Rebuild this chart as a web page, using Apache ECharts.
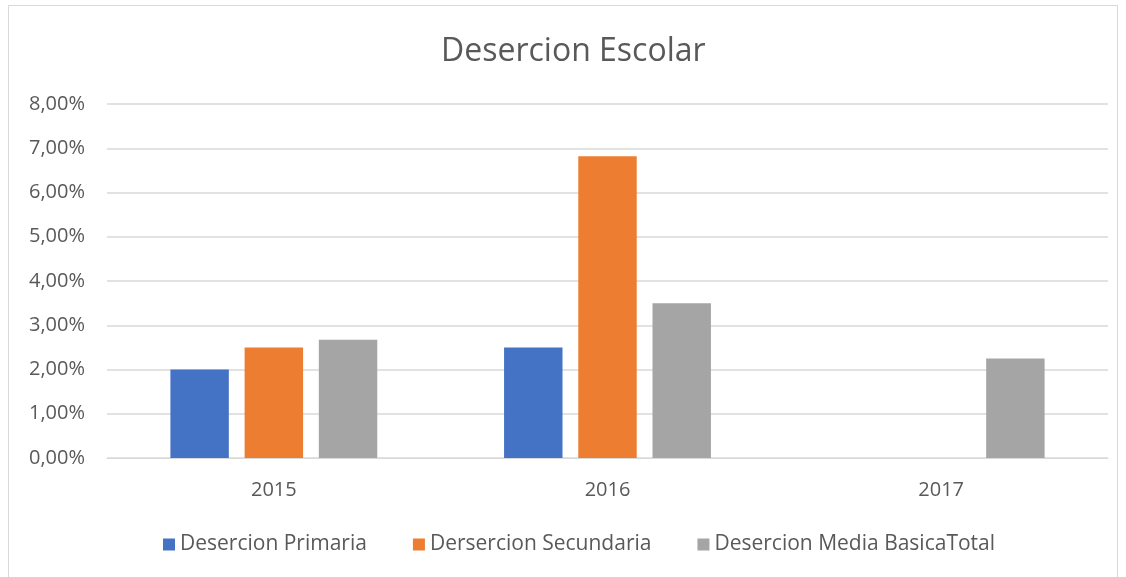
<!DOCTYPE html>
<html>
<head>
<meta charset="utf-8">
<script src="https://cdn.jsdelivr.net/npm/echarts@6/dist/echarts.min.js"></script>
<style>
  html, body { margin: 0; padding: 0; background: #fff; }
  #frame { position: absolute; left: 8px; top: 5px; width: 1110px; height: 580px; border: 1px solid #d9d9d9; box-sizing: border-box; }
  #chart { position: absolute; left: 0; top: 0; width: 1126px; height: 577px; }
</style>
</head>
<body>
<div id="frame"></div>
<div id="chart"></div>
<script>
// datos
let years = ["2015", "2016", "2017"];
let primaria = [2.0, 2.5, null];
let secundaria = [2.5, 6.82, null];
let mediaBasica = [2.67, 3.5, 2.25];
let seriesNames = ["Desercion Primaria", "Dersercion Secundaria", "Desercion Media BasicaTotal"];

let fontFam = "'Open Sans', 'Liberation Sans', sans-serif";
let myChart = echarts.init(document.getElementById("chart"));

let option = {
  animation: false,
  title: {
    text: "Desercion Escolar",
    left: 436,
    top: 31,
    textStyle: { fontFamily: fontFam, fontSize: 32, fontWeight: "normal", color: "#595959" }
  },
  legend: {
    data: seriesNames,
    bottom: 17,
    left: 158,
    itemWidth: 12,
    itemHeight: 12,
    itemGap: 46,
    icon: "rect",
    textStyle: { fontFamily: fontFam, fontSize: 21, color: "#595959" }
  },
  grid: { left: 107, right: 18, top: 104, bottom: 119 },
  xAxis: {
    type: "category",
    data: years,
    axisLine: { lineStyle: { color: "#d9d9d9" } },
    axisTick: { show: false },
    axisLabel: { fontFamily: fontFam, fontSize: 20, color: "#595959", margin: 22 }
  },
  yAxis: {
    type: "value",
    min: 0,
    max: 8,
    interval: 1,
    axisLine: { show: false },
    axisTick: { show: false },
    splitLine: { lineStyle: { color: "#d9d9d9", width: 1.5 } },
    axisLabel: {
      fontFamily: fontFam, fontSize: 20, color: "#595959", margin: 22,
      formatter: function (v) { return v.toFixed(2).replace(".", ",") + "%"; }
    }
  },
  series: [
    { name: seriesNames[0], type: "bar", data: primaria, itemStyle: { color: "#4472c4" }, barGap: "27%", barCategoryGap: "38%" },
    { name: seriesNames[1], type: "bar", data: secundaria, itemStyle: { color: "#ed7d31" } },
    { name: seriesNames[2], type: "bar", data: mediaBasica, itemStyle: { color: "#a5a5a5" } }
  ]
};

myChart.setOption(option);
window.onresize = myChart.resize;
</script>
</body>
</html>
